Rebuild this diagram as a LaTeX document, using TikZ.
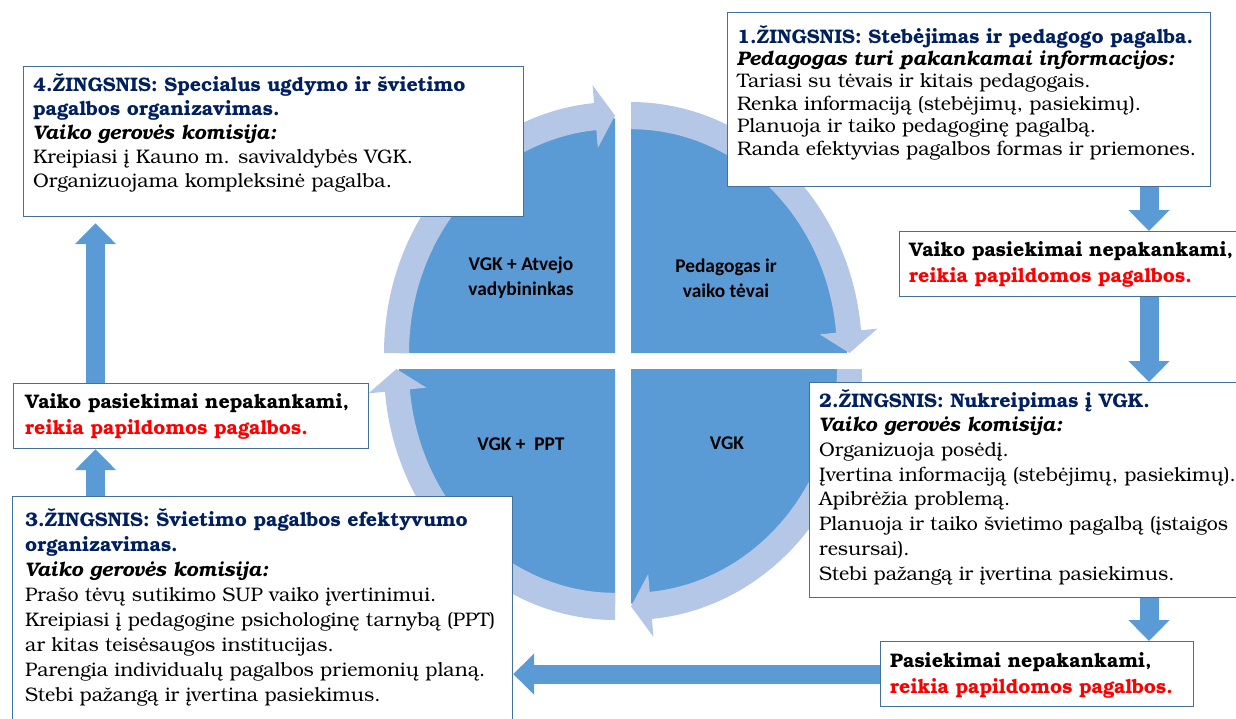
\documentclass[tikz,border=0pt]{standalone}
\usepackage{fontspec}
\setmainfont{texgyrebonum}[Extension=.otf, UprightFont=*-regular, BoldFont=*-bold, ItalicFont=*-italic, BoldItalicFont=*-bolditalic]
\newfontfamily\calib{Carlito}
\usetikzlibrary{arrows.meta,calc}
\definecolor{pieblue}{HTML}{5B9BD5}
\definecolor{ringblue}{HTML}{B4C7E7}
\definecolor{boxline}{HTML}{41719C}
\definecolor{navy}{HTML}{002060}
\definecolor{alertred}{HTML}{FF0000}
\def\ky{1.0866}
\newcommand\piequad[4]{%
  \fill[pieblue] (#1,#2) -- plot[domain=#3:#4,samples=40] ({#1+216*cos(\x)},{#2+\ky*216*sin(\x)}) -- cycle;}
\newcommand\ringseg[4]{%
  \pgfmathsetmacro\rsb{#4-5.2}%
  \fill[ringblue] plot[domain=#3:\rsb,samples=40] ({#1+231*cos(\x)},{#2+\ky*231*sin(\x)})
   -- ({#1+247.5*cos(\rsb)},{#2+\ky*247.5*sin(\rsb)})
   -- ({#1+218.5*cos(#4)},{#2+\ky*218.5*sin(#4)})
   -- ({#1+189.5*cos(\rsb)},{#2+\ky*189.5*sin(\rsb)})
   -- plot[domain=\rsb:#3,samples=40] ({#1+206*cos(\x)},{#2+\ky*206*sin(\x)}) -- cycle;}
\begin{document}
\begin{tikzpicture}[x=1pt,y=-1pt,
  box/.style={draw=boxline, line width=1.2pt, fill=white, inner sep=0pt, anchor=north west},
  txt/.style={anchor=base west, align=left, inner sep=0pt, font=\fontsize{19.6}{22.4}\selectfont},
  qlabel/.style={align=center, inner sep=0pt, font=\calib\bfseries\fontsize{19.4}{25}\selectfont},
  barrow/.style={draw=pieblue, line width=19pt, -{Triangle[width=40pt,length=21pt]}}]
\useasboundingbox (0,0) rectangle (1236,718);
% pie quadrants
\piequad{631}{353}{-90}{0}
\piequad{631}{369}{0}{90}
\piequad{615}{369}{90}{180}
\piequad{615}{353}{180}{270}
% ring arrows
\ringseg{631}{353}{-90}{0}
\ringseg{631}{369}{0}{90}
\ringseg{615}{369}{90}{180}
\ringseg{615}{353}{180}{270}
% quadrant labels
\node[qlabel] (q4) at (521,278) {VGK + Atvejo\\vadybininkas};
\node[qlabel] (q1) at (726,278) {Pedagogas ir\\vaiko tėvai};
\node[qlabel] (q3) at (521,444) {VGK + \ PPT};
\node[qlabel] (q2) at (727,443) {VGK};
% boxes
\node[box, minimum width=483pt, minimum height=174pt] (b1) at (727,12) {};
\node[box, minimum width=500pt, minimum height=150pt] (b4) at (23,66) {};
\node[box, minimum width=345pt, minimum height=65pt] (r1) at (899,231) {};
\node[box, minimum width=435pt, minimum height=215pt] (b2) at (809,382) {};
\node[box, minimum width=355pt, minimum height=65pt] (l1) at (13,383) {};
\node[box, minimum width=500pt, minimum height=235pt] (b3) at (12,496) {};
\node[box, minimum width=313pt, minimum height=65pt] (r2) at (880,641) {};
% texts (anchor base = baseline of the last line)
\node[txt] (t1) at (737,155) {{\color{navy}\bfseries 1.ŽINGSNIS: Stebėjimas ir pedagogo pagalba.}\\
{\bfseries\itshape Pedagogas turi pakankamai informacijos:}\\
Tariasi su tėvais ir kitais pedagogais.\\
Renka informaciją (stebėjimų, pasiekimų).\\
Planuoja ir taiko pedagoginę pagalbą.\\
Randa efektyvias pagalbos formas ir priemones.};
\node[txt, font=\fontsize{19.6}{24}\selectfont] (t4) at (33,187) {{\color{navy}\bfseries 4.ŽINGSNIS: Specialus ugdymo ir švietimo}\\
{\color{navy}\bfseries pagalbos organizavimas.}\\
{\bfseries\itshape Vaiko gerovės komisija:}\\
Kreipiasi į Kauno m. savivaldybės VGK.\\
Organizuojama kompleksinė pagalba.};
\node[txt, font=\bfseries\fontsize{19.6}{26}\selectfont] (tr1) at (909,282) {Vaiko pasiekimai nepakankami,\\
{\color{alertred}reikia papildomos pagalbos.}};
\node[txt, font=\fontsize{19.6}{24.7}\selectfont] (t2) at (819,580) {{\color{navy}\bfseries 2.ŽINGSNIS: Nukreipimas į VGK.}\\
{\bfseries\itshape Vaiko gerovės komisija:}\\
Organizuoja posėdį.\\
Įvertina informaciją (stebėjimų, pasiekimų).\\
Apibrėžia problemą.\\
Planuoja ir taiko švietimo pagalbą (įstaigos\\
resursai).\\
Stebi pažangą ir įvertina pasiekimus.};
\node[txt, font=\bfseries\fontsize{19.6}{26}\selectfont] (tl1) at (25,434) {Vaiko pasiekimai nepakankami,\\
{\color{alertred}reikia papildomos pagalbos.}};
\node[txt, font=\fontsize{19.6}{25}\selectfont] (t3) at (25,701) {{\color{navy}\bfseries 3.ŽINGSNIS: Švietimo pagalbos efektyvumo}\\
{\color{navy}\bfseries organizavimas.}\\
{\bfseries\itshape Vaiko gerovės komisija:}\\
Prašo tėvų sutikimo SUP vaiko įvertinimui.\\
Kreipiasi į pedagogine psichologinę tarnybą (PPT)\\
ar kitas teisėsaugos institucijas.\\
Parengia individualų pagalbos priemonių planą.\\
Stebi pažangą ir įvertina pasiekimus.};
\node[txt, font=\bfseries\fontsize{19.6}{26}\selectfont] (tr2) at (890,693) {Pasiekimai nepakankami,\\
{\color{alertred}reikia papildomos pagalbos.}};
% block arrows
\coordinate (ra) at (1149,0);
\coordinate (la) at (95.5,0);
\draw[barrow] (b1.south -| ra) -- (r1.north -| ra);
\draw[barrow] (r1.south -| ra) -- (b2.north -| ra);
\draw[barrow] (b2.south -| ra) -- (r2.north -| ra);
\draw[barrow] (r2.west) -- (b3.east |- r2.west);
\draw[barrow] (b3.north -| la) -- (l1.south -| la);
\draw[barrow, shorten >=6pt] (l1.north -| la) -- (b4.south -| la);
\end{tikzpicture}
\end{document}
